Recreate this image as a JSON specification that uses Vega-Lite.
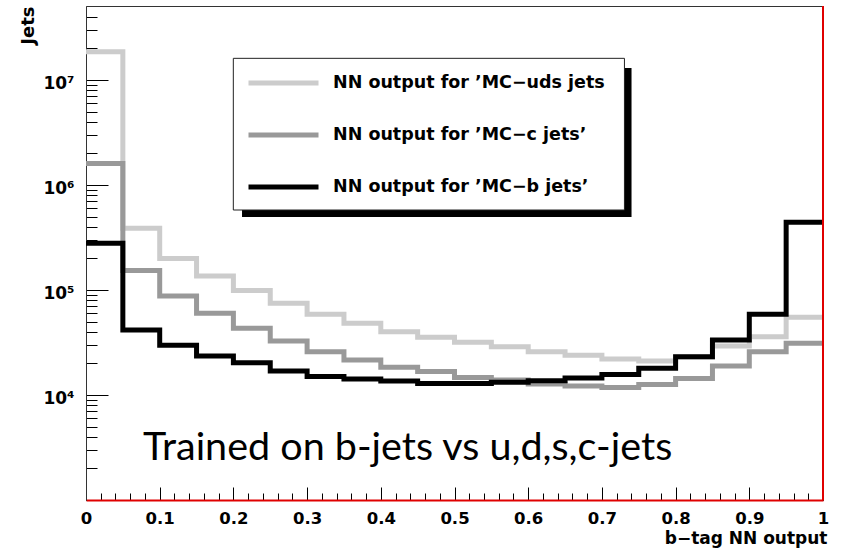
{
  "$schema": "https://vega.github.io/schema/vega-lite/v6.json",
  "width": 737,
  "height": 494,
  "autosize": {"type": "none"},
  "padding": {"left": 86, "top": 6, "right": 19, "bottom": 52},
  "background": "white",
  "config": {
    "view": {"stroke": "#333333", "strokeWidth": 1},
    "axis": {"grid": false, "tickColor": "#000000", "tickWidth": 1, "labelColor": "#000000", "titleColor": "#000000", "labelOverlap": false, "labelFlush": false}
  },
  "datasets": {
    "hist": [
      {"s": "uds", "lo": 0.00, "hi": 0.05, "n": 18600000},
      {"s": "uds", "lo": 0.05, "hi": 0.10, "n": 387000},
      {"s": "uds", "lo": 0.10, "hi": 0.15, "n": 200000},
      {"s": "uds", "lo": 0.15, "hi": 0.20, "n": 136000},
      {"s": "uds", "lo": 0.20, "hi": 0.25, "n": 99000},
      {"s": "uds", "lo": 0.25, "hi": 0.30, "n": 74700},
      {"s": "uds", "lo": 0.30, "hi": 0.35, "n": 58700},
      {"s": "uds", "lo": 0.35, "hi": 0.40, "n": 48200},
      {"s": "uds", "lo": 0.40, "hi": 0.45, "n": 40000},
      {"s": "uds", "lo": 0.45, "hi": 0.50, "n": 35400},
      {"s": "uds", "lo": 0.50, "hi": 0.55, "n": 31800},
      {"s": "uds", "lo": 0.55, "hi": 0.60, "n": 28800},
      {"s": "uds", "lo": 0.60, "hi": 0.65, "n": 25800},
      {"s": "uds", "lo": 0.65, "hi": 0.70, "n": 23900},
      {"s": "uds", "lo": 0.70, "hi": 0.75, "n": 22000},
      {"s": "uds", "lo": 0.75, "hi": 0.80, "n": 21100},
      {"s": "uds", "lo": 0.80, "hi": 0.85, "n": 23000},
      {"s": "uds", "lo": 0.85, "hi": 0.90, "n": 29300},
      {"s": "uds", "lo": 0.90, "hi": 0.95, "n": 35900},
      {"s": "uds", "lo": 0.95, "hi": 1.00, "n": 55000},
      {"s": "c", "lo": 0.00, "hi": 0.05, "n": 1600000},
      {"s": "c", "lo": 0.05, "hi": 0.10, "n": 153000},
      {"s": "c", "lo": 0.10, "hi": 0.15, "n": 87700},
      {"s": "c", "lo": 0.15, "hi": 0.20, "n": 60000},
      {"s": "c", "lo": 0.20, "hi": 0.25, "n": 43200},
      {"s": "c", "lo": 0.25, "hi": 0.30, "n": 32700},
      {"s": "c", "lo": 0.30, "hi": 0.35, "n": 25800},
      {"s": "c", "lo": 0.35, "hi": 0.40, "n": 21500},
      {"s": "c", "lo": 0.40, "hi": 0.45, "n": 18400},
      {"s": "c", "lo": 0.45, "hi": 0.50, "n": 16700},
      {"s": "c", "lo": 0.50, "hi": 0.55, "n": 14700},
      {"s": "c", "lo": 0.55, "hi": 0.60, "n": 13900},
      {"s": "c", "lo": 0.60, "hi": 0.65, "n": 12700},
      {"s": "c", "lo": 0.65, "hi": 0.70, "n": 12200},
      {"s": "c", "lo": 0.70, "hi": 0.75, "n": 11800},
      {"s": "c", "lo": 0.75, "hi": 0.80, "n": 12600},
      {"s": "c", "lo": 0.80, "hi": 0.85, "n": 14400},
      {"s": "c", "lo": 0.85, "hi": 0.90, "n": 18900},
      {"s": "c", "lo": 0.90, "hi": 0.95, "n": 25800},
      {"s": "c", "lo": 0.95, "hi": 1.00, "n": 31100},
      {"s": "b", "lo": 0.00, "hi": 0.05, "n": 279000},
      {"s": "b", "lo": 0.05, "hi": 0.10, "n": 41600},
      {"s": "b", "lo": 0.10, "hi": 0.15, "n": 29700},
      {"s": "b", "lo": 0.15, "hi": 0.20, "n": 23500},
      {"s": "b", "lo": 0.20, "hi": 0.25, "n": 20300},
      {"s": "b", "lo": 0.25, "hi": 0.30, "n": 16900},
      {"s": "b", "lo": 0.30, "hi": 0.35, "n": 15000},
      {"s": "b", "lo": 0.35, "hi": 0.40, "n": 14200},
      {"s": "b", "lo": 0.40, "hi": 0.45, "n": 13600},
      {"s": "b", "lo": 0.45, "hi": 0.50, "n": 12900},
      {"s": "b", "lo": 0.50, "hi": 0.55, "n": 12900},
      {"s": "b", "lo": 0.55, "hi": 0.60, "n": 13200},
      {"s": "b", "lo": 0.60, "hi": 0.65, "n": 13700},
      {"s": "b", "lo": 0.65, "hi": 0.70, "n": 14500},
      {"s": "b", "lo": 0.70, "hi": 0.75, "n": 15700},
      {"s": "b", "lo": 0.75, "hi": 0.80, "n": 18000},
      {"s": "b", "lo": 0.80, "hi": 0.85, "n": 23200},
      {"s": "b", "lo": 0.85, "hi": 0.90, "n": 33400},
      {"s": "b", "lo": 0.90, "hi": 0.95, "n": 58700},
      {"s": "b", "lo": 0.95, "hi": 1.00, "n": 442000}
    ]
  },
  "layer": [
    {
      "data": {"name": "hist"},
      "transform": [{"fold": ["lo", "hi"], "as": ["edge", "xv"]}],
      "mark": {"type": "line", "strokeWidth": 5, "strokeJoin": "miter", "interpolate": "linear"},
      "encoding": {
        "x": {
          "field": "xv",
          "type": "quantitative",
          "scale": {"domain": [0, 1], "nice": false, "zero": false},
          "axis": {
            "values": [0, 0.02, 0.04, 0.06, 0.08, 0.1, 0.12, 0.14, 0.16, 0.18, 0.2, 0.22, 0.24, 0.26, 0.28, 0.3, 0.32, 0.34, 0.36, 0.38, 0.4, 0.42, 0.44, 0.46, 0.48, 0.5, 0.52, 0.54, 0.56, 0.58, 0.6, 0.62, 0.64, 0.66, 0.68, 0.7, 0.72, 0.74, 0.76, 0.78, 0.8, 0.82, 0.84, 0.86, 0.88, 0.9, 0.92, 0.94, 0.96, 0.98, 1],
            "tickCount": 200,
            "labelExpr": "abs(datum.value * 10 - round(datum.value * 10)) < 0.001 ? format(datum.value, '~g') : ''",
            "tickSize": {"condition": {"test": "abs(datum.value * 10 - round(datum.value * 10)) < 0.001", "value": -13}, "value": -7},
            "labelPadding": 23,
            "labelFlush": false,
            "labelOverlap": false,
            "labelFont": "DejaVu Sans",
            "labelFontWeight": "bold",
            "labelFontSize": 16.5,
            "domainColor": "#e00000",
            "domainWidth": 2,
            "title": "b−tag NN output",
            "titleFont": "DejaVu Sans",
            "titleFontWeight": "bold",
            "titleFontSize": 17,
            "titleAnchor": "end",
            "titleAlign": "right",
            "titleBaseline": "alphabetic",
            "titleX": 741,
            "titleY": 43
          }
        },
        "y": {
          "field": "n",
          "type": "quantitative",
          "scale": {"type": "log", "domain": [1000, 50700000], "nice": false},
          "axis": {
            "values": [2000, 3000, 4000, 5000, 6000, 7000, 8000, 9000, 10000, 20000, 30000, 40000, 50000, 60000, 70000, 80000, 90000, 100000, 200000, 300000, 400000, 500000, 600000, 700000, 800000, 900000, 1000000, 2000000, 3000000, 4000000, 5000000, 6000000, 7000000, 8000000, 9000000, 10000000, 20000000, 30000000, 40000000],
            "tickCount": 200,
            "labelExpr": "datum.value == 10000 ? '10⁴' : datum.value == 100000 ? '10⁵' : datum.value == 1000000 ? '10⁶' : datum.value == 10000000 ? '10⁷' : ''",
            "tickSize": {"condition": {"test": "datum.value == 10000 || datum.value == 100000 || datum.value == 1000000 || datum.value == 10000000", "value": -22}, "value": -11},
            "labelPadding": 34,
            "labelOverlap": false,
            "labelFont": "DejaVu Sans",
            "labelFontWeight": "bold",
            "labelFontSize": 17,
            "labelOffset": 3,
            "domainColor": "#333333",
            "title": "Jets",
            "titleFont": "DejaVu Sans",
            "titleFontWeight": "bold",
            "titleFontSize": 18,
            "titleAngle": 270,
            "titleAnchor": "end",
            "titleAlign": "right",
            "titleBaseline": "alphabetic",
            "titleX": -53,
            "titleY": 0
          }
        },
        "color": {
          "field": "s",
          "type": "nominal",
          "scale": {"domain": ["uds", "c", "b"], "range": ["#cccccc", "#999999", "#000000"]},
          "legend": {
            "orient": "none",
            "legendX": 160,
            "legendY": 67,
            "title": null,
            "padding": 0,
            "symbolType": "stroke",
            "symbolSize": 4900,
            "symbolStrokeWidth": 5,
            "clipHeight": 20,
            "rowPadding": 32,
            "labelOffset": 12,
            "labelFont": "DejaVu Sans",
            "labelFontWeight": "bold",
            "labelFontSize": 17.5,
            "labelColor": "#000000",
            "labelLimit": 500,
            "labelExpr": "datum.label == 'uds' ? 'NN output for ’MC−uds jets' : datum.label == 'c' ? 'NN output for ’MC−c jets’' : 'NN output for ’MC−b jets’'"
          }
        },
        "order": [{"field": "lo", "type": "quantitative"}, {"field": "xv", "type": "quantitative"}]
      }
    },
    {
      "data": {"values": [{}]},
      "mark": {"type": "rect", "fill": "#000000"},
      "encoding": {
        "x": {"datum": 0.2117, "type": "quantitative"},
        "x2": {"datum": 0.7402},
        "y": {"datum": 496000, "type": "quantitative"},
        "y2": {"datum": 13000000}
      }
    },
    {
      "data": {"values": [{}]},
      "mark": {"type": "rect", "fill": "#ffffff", "stroke": "#222222", "strokeWidth": 1},
      "encoding": {
        "x": {"datum": 0.1999, "type": "quantitative"},
        "x2": {"datum": 0.7306},
        "y": {"datum": 578000, "type": "quantitative"},
        "y2": {"datum": 16090000}
      }
    },
    {
      "data": {"values": [{}]},
      "mark": {"type": "rule", "color": "#e00000", "strokeWidth": 2},
      "encoding": {"x": {"datum": 1, "type": "quantitative"}}
    },
    {
      "data": {"values": [{}]},
      "mark": {"type": "text", "font": "Lato", "fontSize": 39.5, "align": "left", "baseline": "alphabetic", "color": "#000000"},
      "encoding": {
        "x": {"datum": 0.0773, "type": "quantitative"},
        "y": {"datum": 2404, "type": "quantitative"},
        "text": {"value": "Trained on b-jets vs u,d,s,c-jets"}
      }
    }
  ]
}
